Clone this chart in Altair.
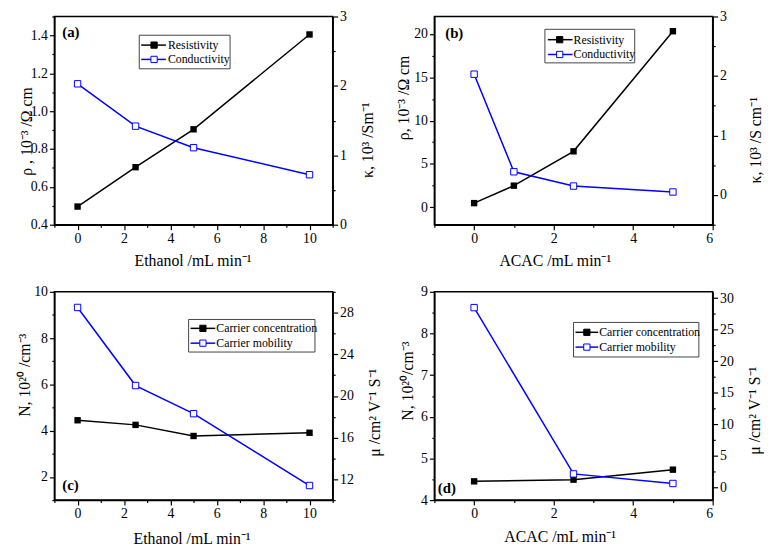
import altair as alt
import pandas as pd

FONT = "Liberation Serif"
BLUE = "#0000FF"

# ---- data ----
a_x = [0, 2.5, 5, 10]
a_rho = [0.496, 0.704, 0.904, 1.405]
a_kappa = [2.03, 1.42, 1.11, 0.72]

b_x = [0, 1, 2.5, 5]
b_rho = [0.49, 2.5, 6.46, 20.3]
b_kappa = [2.03, 0.39, 0.15, 0.05]

c_x = [0, 2.5, 5, 10]
c_N = [4.45, 4.25, 3.77, 3.91]
c_mu = [28.5, 21.0, 18.3, 11.4]

d_x = [0, 2.5, 5]
d_N = [4.45, 4.49, 4.73]
d_mu = [28.5, 2.15, 0.63]

names_ab = ["Resistivity", "Conductivity"]
names_cd = ["Carrier concentration", "Carrier mobility"]

W, H = 282, 211


def frange(a, b, s):
    out, i = [], 0
    while a + i * s <= b + 1e-9:
        out.append(round(a + i * s, 6))
        i += 1
    return out


def make_axis(title, orient, values, major, fmt, tx, ty, angle=None):
    kw = dict(
        title=title, orient=orient, values=values,
        labelExpr=f"({major}) ? format(datum.value, '{fmt}') : ''",
        tickSize={"condition": {"test": major, "value": 5}, "value": 2.5},
        labelOverlap=False, grid=False,
        titleX=tx, titleY=ty, titleBaseline="middle", titleAlign="center",
    )
    if angle is not None:
        kw["titleAngle"] = angle
    return alt.Axis(**kw)


def legend_layers(box, line_x, sq_x, text_x, rows, names):
    one = pd.DataFrame({"k": [0]})
    x0, x1, y0, y1 = box
    layers = [alt.Chart(one).mark_rect(fill="white", stroke="#444", strokeWidth=1).encode(
        x=alt.value(x0), x2=alt.value(x1), y=alt.value(y0), y2=alt.value(y1))]
    colors = ["black", BLUE]
    fills = ["black", "white"]
    for i in range(2):
        layers.append(alt.Chart(one).mark_rule(color=colors[i], strokeWidth=1.5).encode(
            x=alt.value(line_x[0]), x2=alt.value(line_x[1]), y=alt.value(rows[i])))
        layers.append(alt.Chart(one).mark_point(shape="square", size=40, filled=True, fill=fills[i],
                                                stroke=colors[i], strokeWidth=1, opacity=1).encode(
            x=alt.value(sq_x), y=alt.value(rows[i])))
        layers.append(alt.Chart(one).mark_text(align="left", baseline="middle", font=FONT, fontSize=12,
                                               color="black").encode(
            x=alt.value(text_x), y=alt.value(rows[i]), text=alt.value(names[i])))
    return layers


def panel(xs, s1, s2, xaxis, xdom, y1axis, y1dom, y2axis, y2dom, tag, tagpos, leg):
    df = pd.DataFrame({"x": xs, "s1": s1, "s2": s2})
    xenc = alt.X("x:Q", scale=alt.Scale(domain=xdom, nice=False, zero=False), axis=xaxis)
    black = alt.Chart(df).mark_line(color="black", strokeWidth=1.5,
                                    point=alt.OverlayMarkDef(shape="square", size=42, filled=True,
                                                             color="black", opacity=1)).encode(
        x=xenc, y=alt.Y("s1:Q", scale=alt.Scale(domain=y1dom, nice=False, zero=False), axis=y1axis))
    blue = alt.Chart(df).mark_line(color=BLUE, strokeWidth=1.5,
                                   point=alt.OverlayMarkDef(shape="square", size=42, filled=True,
                                                            fill="white", stroke=BLUE, strokeWidth=1,
                                                            opacity=1)).encode(
        x=xenc, y=alt.Y("s2:Q", scale=alt.Scale(domain=y2dom, nice=False, zero=False), axis=y2axis))
    one = pd.DataFrame({"k": [0]})
    label = alt.Chart(one).mark_text(align="left", baseline="middle", font=FONT, fontSize=15,
                                     fontWeight="bold", color="black").encode(
        x=alt.value(tagpos[0]), y=alt.value(tagpos[1]), text=alt.value(tag))
    layers = [black, blue, label] + legend_layers(*leg)
    return alt.layer(*layers).resolve_scale(y="independent").properties(width=W, height=H)


xa = frange(-1, 11, 1)
xb = frange(-1, 6, 1)
even = "round(datum.value) % 2 == 0"

pa = panel(
    a_x, a_rho, a_kappa,
    make_axis("Ethanol /mL min⁻¹", "bottom", xa, even, ".0f", 140, 36),
    [-1, 11],
    make_axis("ρ , 10⁻³ /Ω cm", "left", frange(0.4, 1.5, 0.1), "round(datum.value*10) % 2 == 0", ".1f",
              -28, 116, 270),
    [0.4, 1.5],
    make_axis("κ, 10³ /Sm⁻¹", "right", frange(0, 3, 0.5), "round(datum.value*2) % 2 == 0", ".0f",
              35, 125, 270),
    [0, 3],
    "(a)", (8, 16),
    ((86, 178, 19, 53), (88, 113), 101, 115, (29, 43.5), names_ab),
)

pb = panel(
    b_x, b_rho, b_kappa,
    make_axis("ACAC /mL min⁻¹", "bottom", xb, even, ".0f", 122, 36),
    [-1, 6],
    make_axis("ρ, 10⁻³ /Ω cm", "left", frange(0, 20, 2.5), "round(datum.value*2) % 10 == 0", ".0f",
              -31, 82, 270),
    [-2, 22],
    make_axis("κ, 10³ /S cm⁻¹", "right", frange(-0.5, 3, 0.5), "round(datum.value*2) % 2 == 0", ".0f",
              43, 125, 270),
    [-0.5, 3],
    "(b)", (11, 17),
    ((112, 203, 13, 47), (115, 140), 127, 141, (23.5, 38.5), names_ab),
)

pc = panel(
    c_x, c_N, c_mu,
    make_axis("Ethanol /mL min⁻¹", "bottom", xa, even, ".0f", 139, 39),
    [-1, 11],
    make_axis("N, 10²⁰ /cm⁻³", "left", frange(1, 10, 1), even, ".0f", -30, 84, 270),
    [1, 10],
    make_axis("μ /cm² V⁻¹ S⁻¹", "right", frange(10, 30, 2), "(round(datum.value) - 12) % 4 == 0", ".0f",
              42, 122, 270),
    [10, 30],
    "(c)", (8, 196),
    ((136, 264, 28, 61), (138, 163), 150.5, 164, (37, 52), names_cd),
)

pd_ = panel(
    d_x, d_N, d_mu,
    make_axis("ACAC /mL min⁻¹", "bottom", xb, even, ".0f", 127, 37),
    [-1, 6],
    make_axis("N, 10²⁰/cm⁻³", "left", frange(4, 9, 0.5), "round(datum.value*2) % 2 == 0", ".0f",
              -27, 90, 270),
    [4, 9],
    make_axis("μ /cm² V⁻¹ S⁻¹", "right", frange(0, 30, 2.5), "round(datum.value*2) % 10 == 0", ".0f",
              42, 120, 270),
    [-2, 31],
    "(d)", (3.5, 199),
    ((141, 268, 31, 66), (143, 166), 154.5, 167, (41, 56), names_cd),
)

chart = alt.concat(pa, pb, pc, pd_, columns=2, spacing={"row": 68, "column": 103},
                   bounds="flush").properties(
    padding={"left": 8, "top": -3, "right": 0, "bottom": 0}
).configure(font=FONT).configure_view(
    stroke="black", strokeWidth=1.5
).configure_axis(
    domainColor="black", domainWidth=1.5, tickColor="black", tickWidth=1.2,
    labelFont=FONT, labelFontSize=14, labelColor="black", labelPadding=2,
    titleFont=FONT, titleFontSize=16, titleFontWeight="normal", titleColor="black",
)

chart.save("out.html", embed_options={"renderer": "svg", "actions": False})
